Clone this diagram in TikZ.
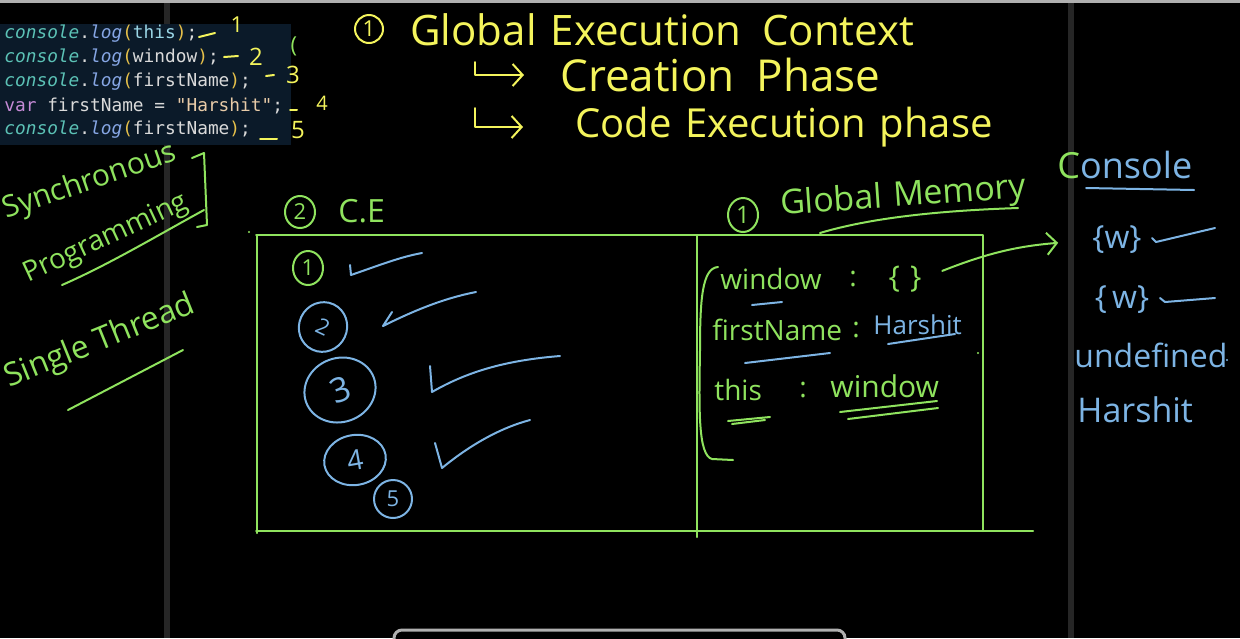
\documentclass[tikz,border=0pt]{standalone}
\usepackage{fontspec}
\setmainfont{Open Sans}
\newfontfamily\codefont{DejaVu Sans Mono}
\usepackage{tikz}
\usetikzlibrary{arrows.meta,shapes.geometric}
\usepackage{xcolor}
\definecolor{board}{HTML}{000000}
\definecolor{bargray}{HTML}{262626}
\definecolor{stripgray}{HTML}{B0B0B0}
\definecolor{codebg}{HTML}{0B1A29}
\definecolor{codeteal}{HTML}{5CC2B6}
\definecolor{codeblue}{HTML}{86A6E4}
\definecolor{codeyel}{HTML}{E6C04A}
\definecolor{codecyan}{HTML}{9AD6E6}
\definecolor{codewhite}{HTML}{DADADA}
\definecolor{codepurple}{HTML}{C58AD6}
\definecolor{codestr}{HTML}{E8CBA8}
\definecolor{chalkyellow}{HTML}{F4F45C}
\definecolor{chalkgreen}{HTML}{8FE35E}
\definecolor{chalkblue}{HTML}{7DB4E4}
\newcommand{\jslog}[1]{\textit{\textcolor{codeteal}{console}}.\textit{\textcolor{codeblue}{log}}\textcolor{codeyel}{(}#1\textcolor{codeyel}{)};}
\newcommand{\handsize}[1]{\fontsize{#1}{#1}\selectfont}

\begin{document}
\begin{tikzpicture}[x=0.5pt,y=-0.5pt,>={Straight Barb[length=5pt,width=11pt]},
  codeline/.style={anchor=west,inner sep=0pt,text=codewhite,font=\codefont\fontsize{8.9}{10}\selectfont},
  yhand/.style={text=chalkyellow,inner sep=0pt},
  ghand/.style={text=chalkgreen,inner sep=0pt},
  bhand/.style={text=chalkblue,inner sep=0pt},
  gstroke/.style={chalkgreen,line width=1pt,line cap=round,line join=round},
  bstroke/.style={chalkblue,line width=1pt,line cap=round,line join=round},
  ystroke/.style={chalkyellow,line width=1pt,line cap=round,line join=round},
  num/.style={draw,ellipse,line width=1pt,inner sep=0pt,font=\handsize{11}}]
  \useasboundingbox (0,0) rectangle (1240,638);
  \clip (0,0) rectangle (1240,638);
  \fill[board] (0,0) rectangle (1240,638);
  \fill[stripgray] (0,0) rectangle (1240,3);
  \fill[bargray] (164,3) rectangle (170,638);
  \fill[bargray] (1068,3) rectangle (1074,638);
  \filldraw[fill=bargray!140,draw=stripgray,line width=1.5pt,rounded corners=4pt] (394,630) rectangle (845,660);

  \fill[codebg] (0,24) rectangle (291,145);
  \node[codeline] (codeA) at (4,34) {\jslog{\textcolor{codecyan}{this}}};
  \node[codeline] (codeB) at (4,58) {\jslog{window}};
  \node[codeline] (codeC) at (4,82) {\jslog{firstName}};
  \node[codeline] (codeD) at (4,106) {\textcolor{codepurple}{var} firstName = \textcolor{codestr}{"Harshit"};};
  \node[codeline] (codeE) at (4,130) {\jslog{firstName}};
  \draw[ystroke] (199,37) -- (215,33);
  \node[yhand,font=\handsize{11}] (markA) at (237,25) {1};
  \draw[ystroke] (224,57) -- (238,56);
  \node[yhand,font=\handsize{12}] (markB) at (256,57) {2};
  \draw[ystroke] (266,76) -- (274,75);
  \node[yhand,font=\handsize{12}] (markC) at (293,75) {3};
  \draw[ystroke] (290,110) -- (297,110);
  \node[yhand,font=\handsize{10}] (markD) at (322,103) {4};
  \draw[ystroke] (260,139) -- (277,139);
  \node[yhand,font=\handsize{12}] (markE) at (298,130) {5};
  \node[ghand,font=\handsize{11}] (paren) at (294,46) {(};

  \node[num,draw=chalkyellow,text=chalkyellow,minimum width=14pt,minimum height=14pt] (gecnum) at (369,29) {1};
  \node[yhand,anchor=west,font=\handsize{21}] (gec) at (410,30) {Global\,\,Execution\,\,\,Context};
  \node[yhand,anchor=west,font=\handsize{22}] (crph) at (560,75) {Creation\,\,\,Phase};
  \node[yhand,anchor=west,font=\handsize{20}] (cexph) at (575,127) {Code\,\,Execution\,\,phase};
  \coordinate (crfrom) at (475,62);
  \coordinate (cexfrom) at (475,108);
  \draw[ystroke,->,shorten >=18pt] (crfrom) |- (crph.west);
  \draw[ystroke,->,shorten >=26pt] (cexfrom) |- (cexph.west);

  \node[ghand,font=\handsize{15},rotate=19] (sync) at (90,182) {Synchronous};
  \node[ghand,font=\handsize{14},rotate=25] (prog) at (106,239) {Programming};
  \draw[gstroke] (62,285) .. controls (110,264) and (160,234) .. (204,210);
  \draw[gstroke] (192,158) -- (204,153) -- (207,225) -- (197,227);
  \node[ghand,font=\handsize{16},rotate=22] (single) at (100,342) {Single Thread};
  \draw[gstroke] (68,410) -- (183,350);

  \node[num,draw=chalkgreen,text=chalkgreen,minimum width=15pt,minimum height=16pt] (cenum) at (300,212) {2};
  \node[ghand,anchor=west,font=\handsize{16}] (ce) at (338,211) {C.E};
  \fill[chalkgreen] (249,232) circle (1.2);
  \draw[gstroke] (256,235) -- (983,235) -- (983,531);
  \draw[gstroke] (257,235) -- (257,533);
  \draw[gstroke] (256,531) -- (1033,531);
  \draw[gstroke] (697,235) -- (697,537);

  \node[num,draw=chalkgreen,text=chalkgreen,minimum width=15pt,minimum height=17pt] (stepA) at (308,268) {1};
  \node[num,draw=chalkblue,text=chalkblue,minimum width=24pt,minimum height=25pt,rotate=-25] (stepB) at (323,327) {2};
  \node[num,draw=chalkblue,text=chalkblue,minimum width=36pt,minimum height=32pt,rotate=20,font=\handsize{17}] (stepC) at (340,390) {3};
  \node[num,draw=chalkblue,text=chalkblue,minimum width=31pt,minimum height=25pt,rotate=10,font=\handsize{14}] (stepD) at (355,460) {4};
  \node[num,draw=chalkblue,text=chalkblue,minimum width=19pt,minimum height=19pt] (stepE) at (393,499) {5};
  \draw[bstroke] (350,265) -- (351,275) .. controls (380,265) and (400,257) .. (422,253);
  \draw[bstroke] (392,312) -- (383,326) .. controls (415,310) and (445,298) .. (476,292);
  \draw[bstroke] (430,366) -- (432,392) .. controls (470,370) and (510,360) .. (560,356);
  \draw[bstroke] (435,443) -- (442,468) .. controls (470,445) and (500,428) .. (530,420);

  \node[num,draw=chalkgreen,text=chalkgreen,minimum width=15pt,minimum height=17pt,font=\handsize{12}] (gmnum) at (743,215) {1};
  \node[ghand,anchor=west,font=\handsize{17},rotate=4] (gm) at (780,206) {Global\,\,Memory};
  \draw[gstroke] (820,233) .. controls (880,215) and (960,210) .. (1018,208);
  \draw[gstroke] (718,267) .. controls (702,268) and (700,300) .. (700,350) .. controls (699,410) and (698,455) .. (712,459) -- (733,460);

  \node[ghand,anchor=west,font=\handsize{14}] (wkey) at (720,279) {window};
  \node[ghand,font=\handsize{14}] (wcolon) at (853,279) {:};
  \node[ghand,font=\handsize{15}] (wval) at (905,279) {\{\,\,\}};
  \draw[bstroke] (752,305) -- (782,302);
  \node[ghand,anchor=west,font=\handsize{14}] (fkey) at (712,330) {firstName};
  \node[ghand,font=\handsize{14}] (fcolon) at (856,330) {:};
  \node[bhand,anchor=west,font=\handsize{13}] (fval) at (873,325) {Harshit};
  \draw[bstroke] (745,363) -- (830,353);
  \draw[bstroke] (888,344) -- (955,334);
  \node[ghand,anchor=west,font=\handsize{14}] (tkey) at (714,390) {this};
  \node[ghand,font=\handsize{14}] (tcolon) at (803,390) {:};
  \node[ghand,anchor=west,font=\handsize{15}] (tval) at (830,386) {window};
  \draw[gstroke] (728,421) -- (770,417);
  \draw[gstroke] (732,424) -- (765,420);
  \draw[gstroke] (840,412) -- (937,401);
  \draw[gstroke] (848,419) -- (938,408);
  \fill[chalkgreen] (978,353) circle (1.2);

  \node[bhand,anchor=west,font=\handsize{18}] (console) at (1057,165) {\textcolor{chalkgreen}{C}onsole};
  \draw[bstroke] (1086,188) -- (1194,190);
  \node[bhand,font=\handsize{16}] (outA) at (1117,240) {\{w\}};
  \draw[bstroke] (1152,238) -- (1156,242) -- (1215,228);
  \node[bhand,font=\handsize{16}] (outB) at (1122,300) {\{\,w\}};
  \draw[bstroke] (1160,298) -- (1165,302) -- (1215,298);
  \node[bhand,anchor=west,font=\handsize{16}] (outC) at (1074,355) {undefined};
  \fill[chalkblue] (1227,360) circle (1.2);
  \node[bhand,anchor=west,font=\handsize{17}] (outD) at (1077,410) {Harshit};

  \draw[gstroke,->,shorten <=11pt,shorten >=17pt] (wval.east) .. controls (990,252) and (1020,246) .. (outA.west);
\end{tikzpicture}
\end{document}
